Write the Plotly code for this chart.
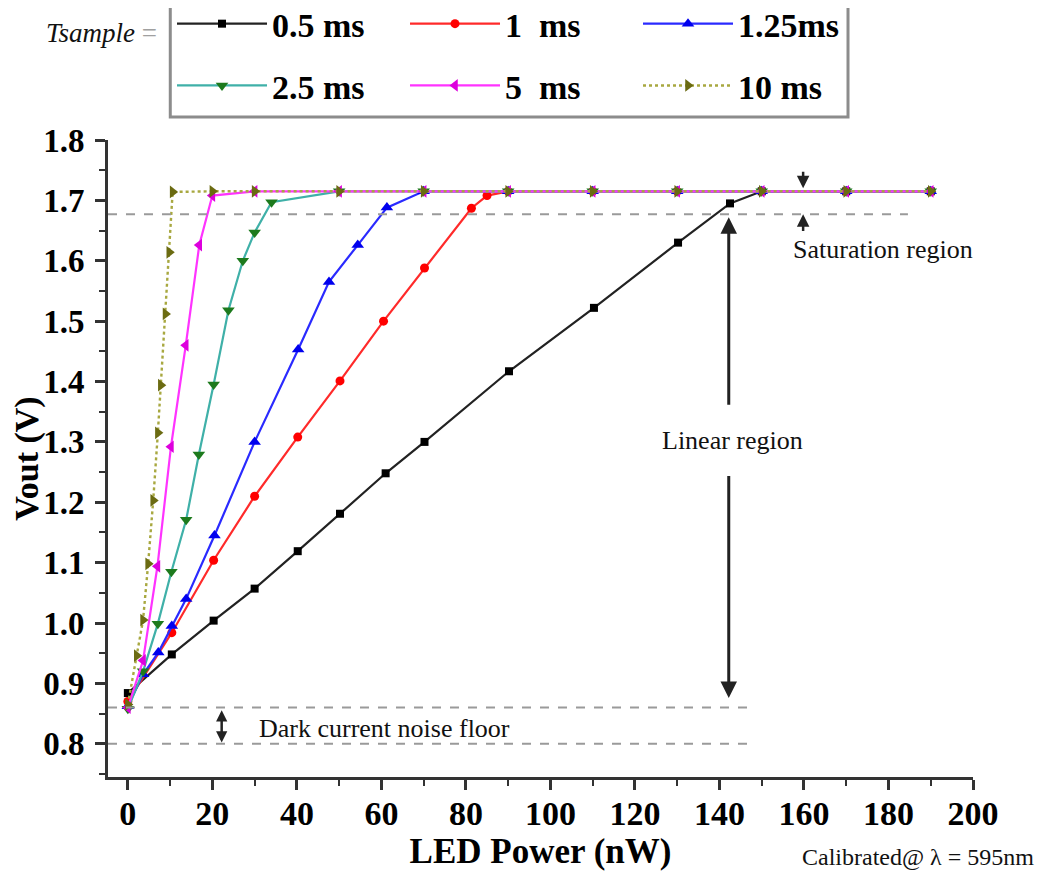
import plotly.graph_objects as go

# ---------------- data ----------------
x_05 = [0, 10.4, 20.3, 30, 40.2, 50.2, 61, 70.2, 90.2, 110.3, 130.2, 142.5, 150, 170, 190]
y_05 = [0.884, 0.948, 1.004, 1.057, 1.119, 1.181, 1.248, 1.300, 1.417, 1.522, 1.630, 1.695, 1.715, 1.715, 1.715]

x_1 = [0, 10.4, 20.3, 30, 40.2, 50.2, 60.5, 70.2, 81.3, 85, 90, 110, 130, 150, 170, 190]
y_1 = [0.870, 0.984, 1.104, 1.210, 1.308, 1.401, 1.500, 1.588, 1.687, 1.708, 1.715, 1.715, 1.715, 1.715, 1.715, 1.715]

x_125 = [0, 3.6, 7.2, 10.4, 13.8, 20.5, 30, 40.3, 47.6, 54.4, 61.3, 70, 90, 110, 130, 150, 170, 190]
y_125 = [0.862, 0.915, 0.951, 0.995, 1.040, 1.145, 1.300, 1.453, 1.565, 1.626, 1.688, 1.715, 1.715, 1.715, 1.715, 1.715, 1.715, 1.715]

x_25 = [0, 3.6, 7.1, 10.3, 13.8, 16.8, 20.3, 23.8, 27.2, 30, 34, 50, 70, 90, 110, 130, 150, 170, 190]
y_25 = [0.858, 0.920, 0.999, 1.085, 1.171, 1.279, 1.395, 1.518, 1.600, 1.647, 1.697, 1.715, 1.715, 1.715, 1.715, 1.715, 1.715, 1.715, 1.715]

x_5 = [0, 3.6, 7.0, 10.2, 13.7, 16.9, 20, 30, 50, 70, 90, 110, 130, 150, 170, 190]
y_5 = [0.860, 0.938, 1.094, 1.292, 1.460, 1.626, 1.708, 1.715, 1.715, 1.715, 1.715, 1.715, 1.715, 1.715, 1.715, 1.715]

x_10 = [0, 2.1, 3.6, 4.8, 6.0, 7.1, 7.8, 8.9, 9.8, 10.6, 20, 30, 50, 70, 90, 110, 130, 150, 170, 190]
y_10 = [0.865, 0.946, 1.005, 1.098, 1.203, 1.315, 1.394, 1.512, 1.614, 1.714, 1.715, 1.715, 1.715, 1.715, 1.715, 1.715, 1.715, 1.715, 1.715, 1.715]

series_names = ["0.5\u00a0ms", "1\u00a0\u00a0ms", "1.25ms", "2.5\u00a0ms", "5\u00a0\u00a0ms", "10\u00a0ms"]

x_ticks = [0, 20, 40, 60, 80, 100, 120, 140, 160, 180, 200]
y_ticks = [0.8, 0.9, 1.0, 1.1, 1.2, 1.3, 1.4, 1.5, 1.6, 1.7, 1.8]

sat_line_y = 1.677
noise_hi_y = 0.86
noise_lo_y = 0.80

# ---------------- styles ----------------
SERIF = "Liberation Serif, Times New Roman, serif"
styles = [
    dict(line=dict(color="#222222", width=2.2), marker=dict(symbol="square", size=8, color="#000000")),
    dict(line=dict(color="#ff2a2a", width=2.2), marker=dict(symbol="circle", size=9, color="#ff0000")),
    dict(line=dict(color="#2a2aff", width=2.2), marker=dict(symbol="triangle-up", size=11, color="#0000ee")),
    dict(line=dict(color="#3fb0a8", width=2.2), marker=dict(symbol="triangle-down", size=11, color="#1d7a1d")),
    dict(line=dict(color="#ff33ff", width=2.2), marker=dict(symbol="triangle-left", size=11, color="#dd00dd")),
    dict(line=dict(color="#a8a840", width=2.4, dash="dot"), marker=dict(symbol="triangle-right", size=11, color="#6b6b12")),
]
xs = [x_05, x_1, x_125, x_25, x_5, x_10]
ys = [y_05, y_1, y_125, y_25, y_5, y_10]

fig = go.Figure()
for i, (xv, yv, nm, st) in enumerate(zip(xs, ys, series_names, styles)):
    fig.add_trace(go.Scatter(
        x=xv, y=yv, name=nm, mode="lines+markers",
        line=st["line"], marker=st["marker"],
        legend="legend" if i < 3 else "legend2",
    ))

# dashed reference lines
dash_gray = dict(color="#9a9a9a", width=2, dash="dash")
fig.add_shape(type="line", xref="x", yref="y", x0=-4.7, x1=184.6, y0=sat_line_y, y1=sat_line_y, line=dash_gray)
fig.add_shape(type="line", xref="x", yref="y", x0=-4.7, x1=146.7, y0=noise_hi_y, y1=noise_hi_y, line=dash_gray)
fig.add_shape(type="line", xref="x", yref="y", x0=-4.7, x1=146.7, y0=noise_lo_y, y1=noise_lo_y, line=dash_gray)

# legend box
fig.add_shape(type="rect", xref="paper", yref="paper", x0=0.072, x1=0.8555, y0=1.036, y1=1.215,
              line=dict(color="#8c8c8c", width=3), fillcolor="rgba(0,0,0,0)")

ann_font = dict(family=SERIF, size=26, color="#111111")
arrow_kw = dict(showarrow=True, arrowhead=2, arrowsize=1.1, arrowwidth=3, arrowcolor="#222222",
                xref="x", yref="y", axref="x", ayref="y", text="")
small_arrow_kw = dict(arrow_kw, arrowsize=1.0, arrowwidth=2.5)

# Linear region arrows
fig.add_annotation(x=142.2, y=1.672, ax=142.2, ay=1.359, **arrow_kw)
fig.add_annotation(x=142.2, y=0.876, ax=142.2, ay=1.246, **arrow_kw)
fig.add_annotation(x=143.2, y=1.302, text="Linear region", showarrow=False, font=ann_font,
                   xanchor="center", yanchor="middle")

# Saturation region arrows
fig.add_annotation(x=159.8, y=1.720, ax=159.8, ay=1.750, **small_arrow_kw)
fig.add_annotation(x=159.8, y=1.677, ax=159.8, ay=1.647, **small_arrow_kw)
fig.add_annotation(x=178.7, y=1.619, text="Saturation region", showarrow=False, font=ann_font,
                   xanchor="center", yanchor="middle")

# Dark current double arrow
fig.add_annotation(x=22.2, y=0.802, ax=22.2, ay=0.858, arrowside="end+start", startarrowhead=2,
                   startarrowsize=0.9, **dict(small_arrow_kw, arrowsize=0.9))
fig.add_annotation(x=60.7, y=0.826, text="Dark current noise floor", showarrow=False, font=ann_font,
                   xanchor="center", yanchor="middle")

# Calibration note
fig.add_annotation(x=0.936, y=-0.1256, xref="paper", yref="paper", text="Calibrated@ \u03bb = 595nm",
                   showarrow=False, font=dict(family=SERIF, size=24, color="#111111"),
                   xanchor="center", yanchor="middle")

# Tsample label
fig.add_annotation(x=-0.008, y=1.168, xref="paper", yref="paper",
                   text="<i>Tsample</i> <span style='color:#a0a0a0'>=</span>",
                   showarrow=False, font=dict(family=SERIF, size=27, color="#111"),
                   xanchor="center", yanchor="middle")

legend_common = dict(orientation="h", xanchor="left", yanchor="middle", bgcolor="rgba(0,0,0,0)",
                     borderwidth=0, itemwidth=90, entrywidth=128, entrywidthmode="pixels",
                     font=dict(family=SERIF, size=34, color="#000", weight="bold"))

fig.update_layout(
    width=1050, height=874,
    margin=dict(l=100, r=85, t=132, b=105, autoexpand=False),
    paper_bgcolor="white", plot_bgcolor="white",
    showlegend=True,
    legend=dict(x=0.074, y=1.182, **legend_common),
    legend2=dict(x=0.074, y=1.085, **legend_common),
    xaxis=dict(
        range=[-4.7, 200], tickmode="array", tickvals=x_ticks,
        ticks="outside", ticklen=10, tickwidth=3, tickcolor="#333",
        showline=True, linewidth=3, linecolor="#333", showgrid=False, zeroline=False,
        minor=dict(dtick=10, tick0=0, ticks="outside", ticklen=6, tickwidth=2, tickcolor="#333"),
        tickfont=dict(family=SERIF, size=34, color="#000", weight="bold"),
        ticklabelstandoff=-6,
        title=dict(text="LED Power (nW)", standoff=2,
                   font=dict(family=SERIF, size=35, color="#000", weight="bold")),
    ),
    yaxis=dict(
        range=[0.745, 1.8], tickmode="array", tickvals=y_ticks, tickformat=".1f",
        ticks="outside", ticklen=10, tickwidth=3, tickcolor="#333",
        showline=True, linewidth=3, linecolor="#333", showgrid=False, zeroline=False,
        minor=dict(dtick=0.05, tick0=0.8, ticks="outside", ticklen=6, tickwidth=2, tickcolor="#333"),
        tickfont=dict(family=SERIF, size=33, color="#000", weight="bold"),
        ticklabelstandoff=4,
        title=dict(text="Vout (V)", standoff=16,
                   font=dict(family=SERIF, size=34, color="#000", weight="bold")),
    ),
)

fig.write_html("out.html")
